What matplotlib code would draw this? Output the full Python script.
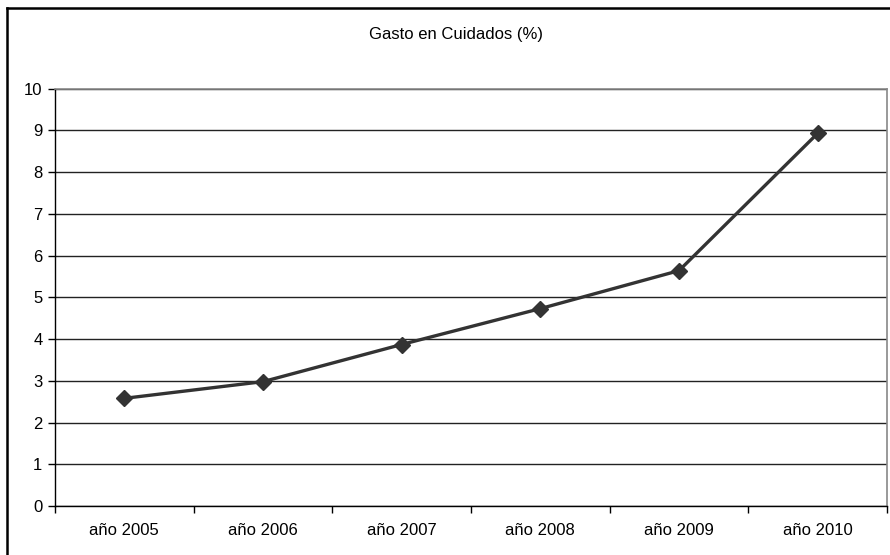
import numpy as np
import matplotlib.pyplot as plt
from matplotlib.lines import Line2D

plt.rcParams['font.family'] = ['Liberation Sans', 'DejaVu Sans']

# Gasto en cuidados por año (%)
years = ['año 2005', 'año 2006', 'año 2007', 'año 2008', 'año 2009', 'año 2010']
gasto = [2.58, 2.98, 3.87, 4.73, 5.64, 8.93]
yticks = list(range(0, 11))

fig = plt.figure(figsize=(8.9, 5.55), dpi=100)
ax = fig.add_axes([55 / 890, 1 - 506 / 555, 832 / 890, (506 - 88.7) / 555])

x = np.arange(len(years))
ax.plot(x, gasto, color='#333333', linewidth=2.4, marker='D', markersize=8.5,
        markerfacecolor='#333333', markeredgecolor='#333333', zorder=3)

ax.set_xlim(-0.5, len(years) - 0.5)
ax.set_ylim(0, 10)
ax.set_yticks(yticks)
ax.set_yticklabels([str(t) for t in yticks], fontsize=12)
ax.set_xticks(x)
ax.set_xticklabels(years, fontsize=12)
ax.tick_params(axis='x', length=0, pad=12)
ax.tick_params(axis='y', length=5, width=1, pad=4, color='black')

# tick marks between categories
ax.set_xticks(np.arange(-0.5, len(years)), minor=True)
ax.tick_params(axis='x', which='minor', length=5, width=1, color='black')

ax.grid(axis='y', color='#222222', linewidth=1)
ax.set_axisbelow(True)
for side in ['left', 'bottom']:
    ax.spines[side].set_color('black')
    ax.spines[side].set_linewidth(1)
for side in ['top', 'right']:
    ax.spines[side].set_color('#888888')
    ax.spines[side].set_linewidth(1.2)

fig.text(456 / 890, 1 - 35 / 555, 'Gasto en Cuidados (%)', ha='center', va='center', fontsize=12)

# chart border
fig.add_artist(Line2D([7 / 890, 7 / 890], [0, 1 - 7.5 / 555], transform=fig.transFigure,
                      color='black', linewidth=1.8))
fig.add_artist(Line2D([7 / 890, 1], [1 - 7.5 / 555, 1 - 7.5 / 555], transform=fig.transFigure,
                      color='black', linewidth=1.8))

plt.savefig('out.png', dpi=100)
plt.close()
